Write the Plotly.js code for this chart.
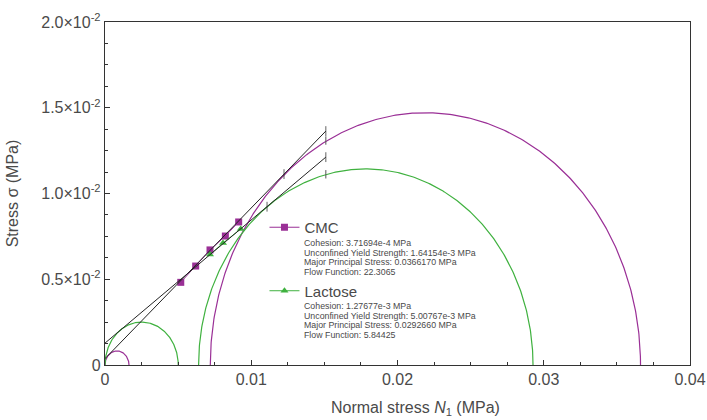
<!DOCTYPE html>
<html>
<head>
<meta charset="utf-8">
<script src="https://cdn.plot.ly/plotly-3.0.1.min.js"></script>
<style>
  html, body { margin: 0; padding: 0; background: #fff; }
  #chart { width: 707px; height: 420px; }
</style>
</head>
<body>
<div id="chart"></div>
<script>
// Shear test results: yield loci and Mohr circles for two powders

// Measured shear points (normal stress, shear stress) in MPa
const cmcPointsX = [0.00518, 0.00620, 0.00718, 0.00823, 0.00914];
const cmcPointsY = [0.00482, 0.00577, 0.00671, 0.00752, 0.00834];
const lactosePointsX = [0.00718, 0.00807, 0.00928];
const lactosePointsY = [0.00644, 0.00711, 0.00793];

// Yield loci (linear fits), with tick marks at the listed positions
const cmcLocusX = [0, 0.01224, 0.0151];
const cmcLocusY = [0.000371694, 0.01113, 0.01364];
const lactoseLocusX = [0, 0.01108, 0.0151];
const lactoseLocusY = [0.00127677, 0.00923, 0.01212];

// Mohr circles: [minor, major] principal stresses, small (unconfined) and large circle
const cmcSmallCircle = [0, 0.00164154];
const cmcLargeCircle = [0.0072, 0.0366170];
const lactoseSmallCircle = [0, 0.00500767];
const lactoseLargeCircle = [0.0064, 0.0292660];

// Tick marks on the large circles
const circleTickX = [0.0151, 0.0151];
const circleTickY = [0.01309, 0.01112];

// Axis ticks
const yTickVals = [0, 0.005, 0.01, 0.015, 0.02];
const yTickText = ['0', '0.5×10<sup>-2</sup>', '1.0×10<sup>-2</sup>', '1.5×10<sup>-2</sup>', '2.0×10<sup>-2</sup>'];
const xTickVals = [0, 0.01, 0.02, 0.03, 0.04];
const xTickText = ['0', '0.01', '0.02', '0.03', '0.04'];

// Summary text per material
const cmcInfo = [
  'Cohesion: 3.71694e-4 MPa',
  'Unconfined Yield Strength: 1.64154e-3 MPa',
  'Major Principal Stress: 0.0366170 MPa',
  'Flow Function: 22.3065'
];
const lactoseInfo = [
  'Cohesion: 1.27677e-3 MPa',
  'Unconfined Yield Strength: 5.00767e-3 MPa',
  'Major Principal Stress: 0.0292660 MPa',
  'Flow Function: 5.84425'
];

const MAGENTA = '#9a2f96';
const GREEN = '#3fb13f';
const INK = '#222222';
const TEXT = '#4a4a4a';
const FONT = 'Liberation Sans, Arial, sans-serif';

// Plot area in pixels, used to place the text blocks
const PLOT_TOP = 22, PLOT_H = 343, PLOT_LEFT = 105, PLOT_W = 585;
const paperY = py => (PLOT_TOP + PLOT_H - py) / PLOT_H;
const paperX = px => (px - PLOT_LEFT) / PLOT_W;

// Upper half of a Mohr circle between two principal stresses
function mohrArc(stresses) {
  const c = (stresses[0] + stresses[1]) / 2;
  const r = (stresses[1] - stresses[0]) / 2;
  const xs = [], ys = [];
  for (let i = 0; i <= 360; i++) {
    const t = Math.PI * i / 360;
    xs.push(c + r * Math.cos(Math.PI - t));
    ys.push(r * Math.sin(Math.PI - t));
  }
  return { x: xs, y: ys };
}

function circleTrace(stresses, color) {
  const arc = mohrArc(stresses);
  return {
    x: arc.x, y: arc.y, type: 'scatter', mode: 'lines',
    line: { color: color, width: 1.2 }, showlegend: false, hoverinfo: 'skip'
  };
}

const traces = [
  circleTrace(cmcSmallCircle, MAGENTA),
  circleTrace(cmcLargeCircle, MAGENTA),
  circleTrace(lactoseSmallCircle, GREEN),
  circleTrace(lactoseLargeCircle, GREEN),
  {
    x: circleTickX, y: circleTickY, type: 'scatter', mode: 'markers',
    marker: { symbol: 'line-ns', size: 6, line: { color: '#555', width: 1 } },
    showlegend: false, hoverinfo: 'skip'
  },
  {
    x: cmcPointsX, y: cmcPointsY, type: 'scatter', mode: 'lines+markers',
    name: 'CMC', legendgroup: 'cmc',
    line: { color: MAGENTA, width: 1 },
    marker: { symbol: 'square', size: 7, color: MAGENTA }
  },
  {
    x: lactosePointsX, y: lactosePointsY, type: 'scatter', mode: 'lines+markers',
    name: 'Lactose', legendgroup: 'lactose',
    line: { color: GREEN, width: 1 },
    marker: { symbol: 'triangle-up', size: 7, color: GREEN }
  },
  {
    x: cmcLocusX, y: cmcLocusY, type: 'scatter', mode: 'lines+markers',
    line: { color: INK, width: 1 },
    marker: { symbol: 'line-ns', size: [0, 7, 7], line: { color: INK, width: 1 } },
    showlegend: false, hoverinfo: 'skip'
  },
  {
    x: lactoseLocusX, y: lactoseLocusY, type: 'scatter', mode: 'lines+markers',
    line: { color: INK, width: 1 },
    marker: { symbol: 'line-ns', size: [0, 7, 7], line: { color: INK, width: 1 } },
    showlegend: false, hoverinfo: 'skip'
  }
];

const axisCommon = {
  showgrid: false, zeroline: false,
  showline: true, linecolor: '#333', linewidth: 1.2, mirror: true,
  ticks: 'inside', ticklen: 5, tickcolor: '#333', tickwidth: 1,
  tickfont: { family: FONT, size: 16, color: TEXT },
  tickmode: 'array'
};

// One annotation per info line so the line spacing stays tight
function infoLines(lines, firstY, step) {
  return lines.map((txt, i) => ({
    xref: 'paper', yref: 'paper',
    x: paperX(302), y: paperY(firstY + i * step),
    xanchor: 'left', yanchor: 'middle', align: 'left',
    showarrow: false, text: txt,
    font: { family: FONT, size: 8.8, color: TEXT }
  }));
}

// x-axis title, set slightly right of the plot centre
const xTitle = {
  xref: 'paper', yref: 'paper',
  x: paperX(415), y: paperY(408),
  xanchor: 'center', yanchor: 'middle',
  showarrow: false,
  text: 'Normal stress <i>N</i><sub>1</sub> (MPa)',
  font: { family: FONT, size: 16, color: TEXT }
};

const layout = {
  width: 707, height: 420,
  margin: { l: PLOT_LEFT, r: 707 - PLOT_LEFT - PLOT_W, t: PLOT_TOP, b: 420 - PLOT_TOP - PLOT_H },
  paper_bgcolor: '#ffffff', plot_bgcolor: '#ffffff',
  font: { family: FONT, color: TEXT },
  xaxis: Object.assign({}, axisCommon, {
    range: [0, 0.04],
    tickvals: xTickVals, ticktext: xTickText,
    minor: { tick0: 0, dtick: 0.0025, ticks: 'inside', ticklen: 3, tickcolor: '#333' }
  }),
  yaxis: Object.assign({}, axisCommon, {
    range: [0, 0.02],
    tickvals: yTickVals, ticktext: yTickText,
    minor: { tick0: 0, dtick: 0.00125, ticks: 'inside', ticklen: 3, tickcolor: '#333' },
    title: { text: 'Stress σ (MPa)', font: { family: FONT, size: 16, color: TEXT }, standoff: 18 }
  }),
  legend: {
    x: 0.2726, y: 0.449, xanchor: 'left', yanchor: 'top',
    bgcolor: 'rgba(0,0,0,0)', borderwidth: 0,
    font: { family: FONT, size: 15, color: TEXT },
    tracegroupgap: 41, itemwidth: 30
  },
  annotations: [xTitle].concat(infoLines(cmcInfo, 243, 9.6), infoLines(lactoseInfo, 306, 9.6))
};

Plotly.newPlot('chart', traces, layout, { staticPlot: true, displayModeBar: false });
</script>
</body>
</html>
